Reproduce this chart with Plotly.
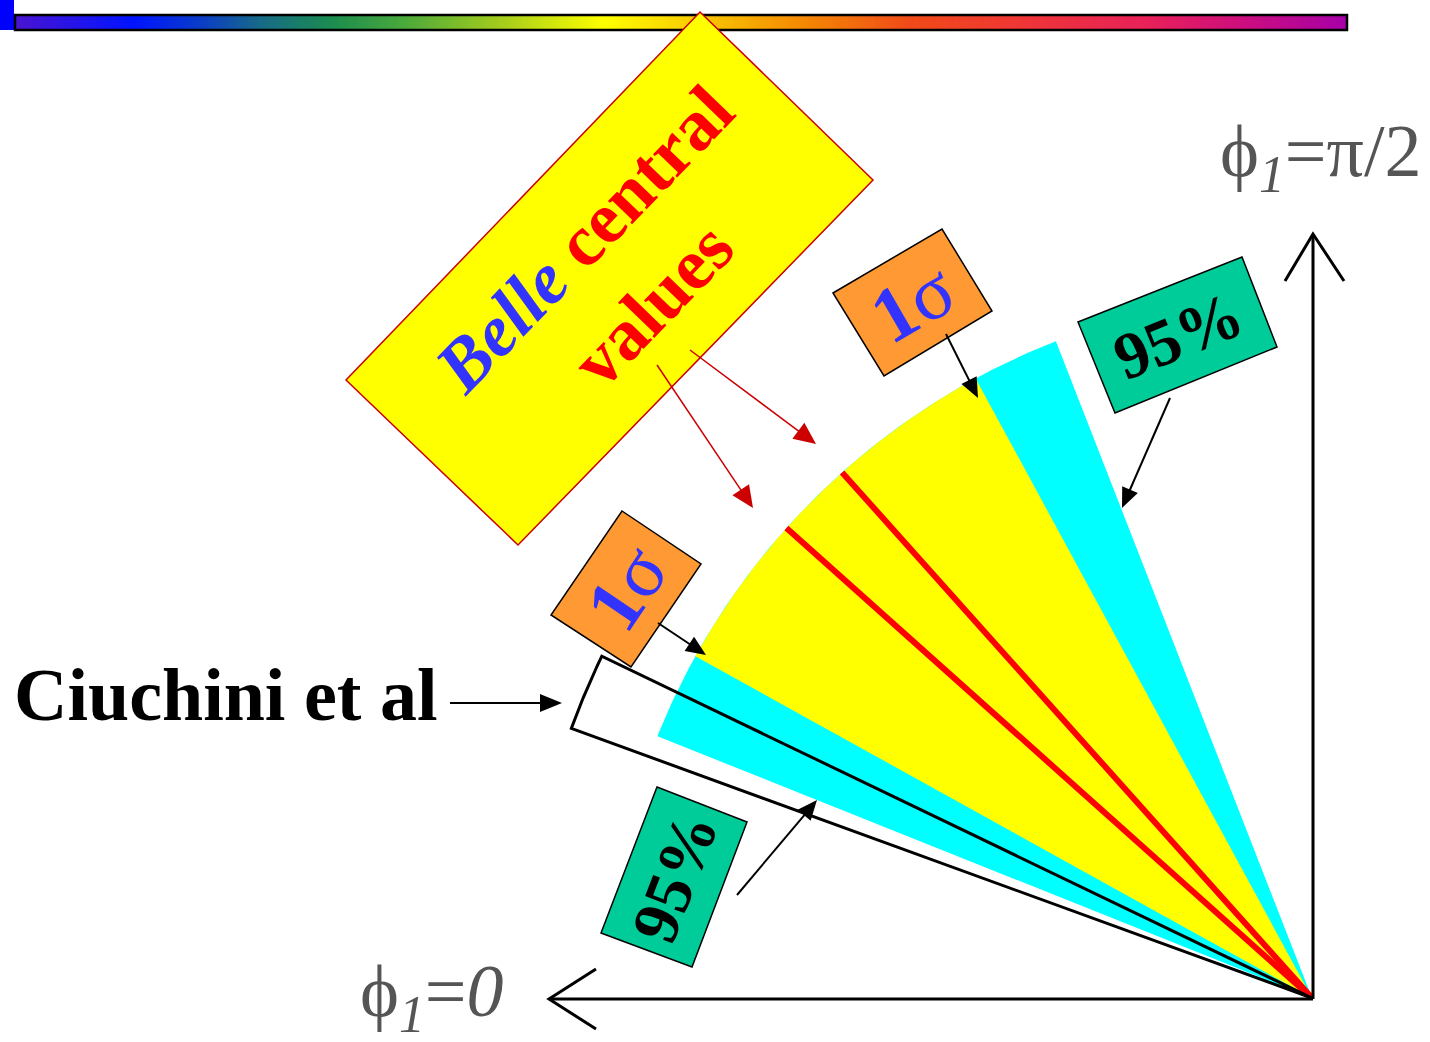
import numpy as np
import plotly.graph_objects as go

# ---------------- data: angle phi1 in degrees (0 = left axis, 90 = vertical axis) ----------
band_labels = ["95%", "1σ", "Belle central values", "Ciuchini et al"]
phi1_95cl = [21.8, 68.7]
phi1_1sigma = [29.0, 61.5]
phi1_belle_central = [41.8, 48.2]
phi1_ciuchini = [20.0, 25.7]
radius_belle = 1.0
radius_ciuchini = 1.118

# rainbow header bar colour stops
rainbow_pos = [0.0, 0.088, 0.138, 0.183, 0.238, 0.289, 0.364, 0.442, 0.519, 0.580, 0.672, 0.74, 0.853, 0.915, 1.0]
rainbow_col = ["#4a14d2", "#0014ff", "#0a3cc8", "#176a88", "#1b8d4f", "#48a83c", "#a4cc1c", "#ffff00",
               "#f8c400", "#f59200", "#f04a18", "#f03a30", "#e8205a", "#d0107a", "#a800a8"]

# ---------------- layout helpers (page pixel -> data units) ----------------
W, H = 1430, 1042
OX, OY, RP = 1312.0, 998.0, 705.0


def P(px, py):
    return ((px - OX) / RP, (OY - py) / RP)


def wedge(a0, a1, r, n=160):
    t = np.radians(np.linspace(a0, a1, n))
    xs = np.concatenate([[0.0], -r * np.cos(t), [0.0]])
    ys = np.concatenate([[0.0], r * np.sin(t), [0.0]])
    return xs, ys


def path(pts, close=True):
    q = [P(*p) for p in pts]
    return "M " + " L ".join(f"{x:.5f},{y:.5f}" for x, y in q) + (" Z" if close else "")


fig = go.Figure()

# rainbow bar
N = 400
x0b, _ = P(15, 0)
x1b, _ = P(1347, 0)
_, ytop = P(0, 15)
_, ybot = P(0, 30)
fig.add_trace(go.Heatmap(
    z=[np.linspace(0, 1, N)], x=np.linspace(x0b, x1b, N + 1), y=[ybot, ytop],
    colorscale=[[p, c] for p, c in zip(rainbow_pos, rainbow_col)], zmin=0, zmax=1,
    showscale=False, hoverinfo="skip"))

# 95% band (cyan)
xs, ys = wedge(phi1_95cl[0], phi1_95cl[1], radius_belle)
fig.add_trace(go.Scatter(x=xs, y=ys, fill="toself", fillcolor="#00ffff", mode="lines",
                         line=dict(width=0, color="#00ffff"), hoverinfo="skip", name=band_labels[0]))
# 1 sigma band (yellow)
xs, ys = wedge(phi1_1sigma[0], phi1_1sigma[1], radius_belle)
fig.add_trace(go.Scatter(x=xs, y=ys, fill="toself", fillcolor="#ffff00", mode="lines",
                         line=dict(width=0, color="#ffff00"), hoverinfo="skip", name=band_labels[1]))
# Belle central values (red lines)
for a in phi1_belle_central:
    t = np.radians(a)
    fig.add_trace(go.Scatter(x=[0, -radius_belle * np.cos(t)], y=[0, radius_belle * np.sin(t)],
                             mode="lines", line=dict(width=6, color="#ff0000"), hoverinfo="skip",
                             name=band_labels[2]))
# Ciuchini et al outline
xs, ys = wedge(phi1_ciuchini[0], phi1_ciuchini[1], radius_ciuchini)
fig.add_trace(go.Scatter(x=xs, y=ys, mode="lines", line=dict(width=3, color="black"),
                         hoverinfo="skip", name=band_labels[3]))

shapes = []
# blue square + bar border
shapes.append(dict(type="path", path=path([(0, 0), (14, 0), (14, 30), (0, 30)]),
                   fillcolor="#0000ff", line=dict(width=0), layer="above"))
shapes.append(dict(type="path", path=path([(15, 15), (1347, 15), (1347, 30), (15, 30)]),
                   fillcolor="rgba(0,0,0,0)", line=dict(width=2.5, color="black"), layer="above"))
# axes
ax0 = P(OX + 1, OY + 1)
shapes.append(dict(type="line", x0=ax0[0], y0=ax0[1], x1=P(1313, 235)[0], y1=P(1313, 235)[1],
                   line=dict(width=3, color="black")))
shapes.append(dict(type="line", x0=ax0[0], y0=ax0[1], x1=P(549, 999)[0], y1=P(549, 999)[1],
                   line=dict(width=3, color="black")))
for pts in ([(1285, 281), (1313, 234), (1344, 281)], [(596, 969), (549, 999), (596, 1029)]):
    shapes.append(dict(type="path", path=path(pts, close=False), line=dict(width=3, color="black")))
# boxes
shapes.append(dict(type="path", path=path([(700, 12), (873, 180), (518, 545), (346, 380)]),
                   fillcolor="#ffff00", line=dict(width=1.5, color="#cc0000"), layer="above"))
shapes.append(dict(type="path", path=path([(833, 293), (942, 229), (992, 311), (884, 376)]),
                   fillcolor="#ff9933", line=dict(width=1.5, color="black"), layer="above"))
shapes.append(dict(type="path", path=path([(622, 511), (701, 564), (631, 667), (551, 615)]),
                   fillcolor="#ff9933", line=dict(width=1.5, color="black"), layer="above"))
shapes.append(dict(type="path", path=path([(1078, 322), (1242, 257), (1277, 347), (1115, 413)]),
                   fillcolor="#00cc99", line=dict(width=1.5, color="black"), layer="above"))
shapes.append(dict(type="path", path=path([(657, 787), (747, 822), (692, 967), (601, 933)]),
                   fillcolor="#00cc99", line=dict(width=1.5, color="black"), layer="above"))


def arrow(tail, tip, color="black", width=2.0, L=20.0, hw=8.5):
    tx, ty = tail
    hx, hy = tip
    d = np.hypot(hx - tx, hy - ty)
    ux, uy = (hx - tx) / d, (hy - ty) / d
    bx, by = hx - L * ux, hy - L * uy
    a, b = P(tx, ty), P(bx + 2 * ux, by + 2 * uy)
    shapes.append(dict(type="line", x0=a[0], y0=a[1], x1=b[0], y1=b[1],
                       line=dict(width=width, color=color), layer="above"))
    tri = [(hx, hy), (bx - hw * uy, by + hw * ux), (bx + hw * uy, by - hw * ux)]
    shapes.append(dict(type="path", path=path(tri), fillcolor=color, line=dict(width=0),
                       layer="above"))


arrow((946, 334), (978, 398))
arrow((658, 623), (706, 655))
arrow((1170, 398), (1122, 508))
arrow((737, 895), (817, 800))
arrow((450, 703), (562, 703), L=22, hw=9)
arrow((657, 365), (753, 508), color="#cc0000", width=1.5, L=22, hw=10)
arrow((690, 350), (816, 444), color="#cc0000", width=1.5, L=22, hw=10)

SERIF = "Liberation Serif, Times New Roman, DejaVu Serif, serif"
ann = []


def text(px, py, s, size, color, angle=0, xanchor="center", yanchor="middle"):
    x, y = P(px, py)
    ann.append(dict(x=x, y=y, xref="x", yref="y", text=s, showarrow=False, textangle=angle,
                    xanchor=xanchor, yanchor=yanchor, font=dict(family=SERIF, size=size, color=color)))


text(618, 272, "<b><i><span style='color:#3333ff'>Belle</span></i> central<br>values</b>", 73, "#ff0000", -46)
text(912, 302, "<b>1</b>σ", 78, "#3333ff", -30)
text(626, 588, "<b>1</b>σ", 78, "#3333ff", -56)
text(1178, 335, "<b>95%</b>", 66, "black", -22)
text(674, 877, "<b>95%</b>", 66, "black", -69)
text(12, 695, "<b>Ciuchini et al</b>", 74, "black", 0, xanchor="left")
text(1321, 156, "ϕ<sub><i>1</i></sub>=π/2", 74, "#555555")
text(432, 996, "ϕ<sub><i>1</i></sub>=<i>0</i>", 74, "#555555")

fig.update_layout(
    width=W, height=H, margin=dict(l=0, r=0, t=0, b=0),
    paper_bgcolor="white", plot_bgcolor="white", showlegend=False, hovermode=False,
    xaxis=dict(range=[-OX / RP, (W - OX) / RP], visible=False, fixedrange=True),
    yaxis=dict(range=[(OY - H) / RP, OY / RP], visible=False, fixedrange=True),
    shapes=shapes, annotations=ann,
)

fig.write_html("out.html", config={"displayModeBar": False},
               post_script="document.body.style.margin='0';document.body.style.overflow='hidden';")
